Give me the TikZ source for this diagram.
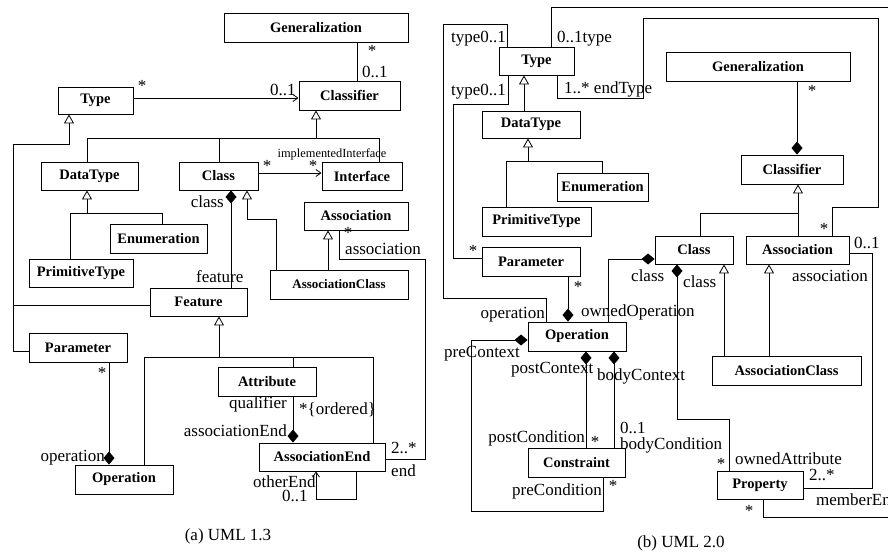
\documentclass[tikz,border=0pt]{standalone}
\usepackage{fontspec}
\setmainfont{Liberation Serif}
\usetikzlibrary{arrows.meta}
\begin{document}
\begin{tikzpicture}[x=1pt,y=-1pt,
  cls/.style={draw, line width=0.9pt, inner sep=0pt, font=\fontsize{14.5}{16}\selectfont\bfseries},
  lab/.style={inner sep=0pt, font=\fontsize{17}{19}\selectfont},
  conn/.style={line width=0.8pt},
  gen/.style={conn, -{Triangle[open, length=9pt, width=10pt, fill=white]}},
  comp/.style={conn, -{Diamond[length=13pt, width=11pt]}},
  nav/.style={conn, -{Straight Barb[length=5pt, width=7pt]}}]
\useasboundingbox (0,0) rectangle (888,552);
\clip (0,0) rectangle (888,552);

% ---------------- left panel boxes ----------------
\node[cls, minimum width=184pt, minimum height=29pt] (genL) at (316,27.5) {Generalization};
\node[cls, minimum width=101pt, minimum height=29pt] (clsfL) at (349.5,95.5) {Classifier};
\node[cls, minimum width=75pt, minimum height=27pt] (typeL) at (95.5,100.5) {Type};
\node[cls, minimum width=97pt, minimum height=28pt] (dtL) at (89.5,176) {DataType};
\node[cls, minimum width=79pt, minimum height=28pt] (classL) at (218.5,176) {Class};
\node[cls, minimum width=80pt, minimum height=28pt] (intfL) at (362,176) {Interface};
\node[cls, minimum width=97pt, minimum height=29pt] (enumL) at (158.5,238.5) {Enumeration};
\node[cls, minimum width=104pt, minimum height=28pt] (primL) at (81,273) {PrimitiveType};
\node[cls, minimum width=104pt, minimum height=28pt] (assocL) at (356,216) {Association};
\node[cls, minimum width=138pt, minimum height=29pt, font=\fontsize{13}{15}\selectfont\bfseries] (acL) at (339,284.5) {AssociationClass};
\node[cls, minimum width=97pt, minimum height=28pt] (featL) at (198.5,302) {Feature};
\node[cls, minimum width=98pt, minimum height=29pt] (paramL) at (78,347.5) {Parameter};
\node[cls, minimum width=98pt, minimum height=29pt] (attrL) at (267,381.5) {Attribute};
\node[cls, minimum width=98pt, minimum height=29pt] (opL) at (124,479.5) {Operation};
\node[cls, minimum width=126pt, minimum height=28pt] (aeL) at (322,457) {AssociationEnd};

% ---------------- left panel connectors ----------------
\draw[conn] (genL.south -| 357,0) -- (clsfL.north -| 357,0);
\node[lab, anchor=base] (l1) at (372,56) {*};
\node[lab, anchor=base west] (l2) at (362,77) {0..1};

\draw[nav] (typeL.east |- 0,98) -- (clsfL.west |- 0,98);
\node[lab, anchor=base] (l3) at (142,91) {*};
\node[lab, anchor=base west] (l4) at (270,95) {0..1};

\draw[conn] (dtL.north -| 87,0) -- (87,138) -- (379,138) -- (intfL.north -| 379,0);
\draw[conn] (classL.north -| 219,0) -- (219,138);
\draw[gen] (316,138) -- (clsfL.south -| 316,0);

\draw[nav] (classL.east |- 0,173) -- (intfL.west |- 0,173);
\node[lab, anchor=base] (l5) at (267,171) {*};
\node[lab, anchor=base] (l6) at (313,171) {*};
\node[inner sep=0pt, font=\fontsize{12.4}{14}\selectfont, anchor=base] (l7) at (332,157) {implementedInterface};

\draw[gen] (paramL.west |- 0,351) -| (13,144) -| (typeL.south -| 69,0);
\draw[conn] (featL.west |- 0,305) -- (13,305);

\draw[conn] (primL.north -| 70,0) -- (70,213) -- (162,213) -- (enumL.north -| 162,0);
\draw[gen] (87,213) -- (dtL.south -| 87,0);

\draw[comp] (featL.north -| 231,0) -- (classL.south -| 231,0);
\node[lab, anchor=base east] (l8) at (224,207) {class};
\node[lab, anchor=base west] (l9) at (196,282) {feature};

\draw[gen] (acL.north -| 276,0) -- (276,219) -- (247,219) -- (classL.south -| 247,0);
\draw[gen] (acL.north -| 328,0) -- (assocL.south -| 328,0);

\draw[conn] (assocL.south -| 339,0) -- (339,259) -- (425,259) -- (425,459) -- (aeL.east |- 0,459);
\node[lab, anchor=base] (l10) at (348,238) {*};
\node[lab, anchor=base west] (l11) at (345,254) {association};
\node[lab, anchor=base west] (l12) at (391,453) {2..*};
\node[lab, anchor=base west] (l13) at (391,476) {end};

\draw[gen] (219,357) -- (featL.south -| 219,0);
\draw[conn] (opL.north -| 144,0) -- (144,357) -- (373,357) -- (aeL.north -| 373,0);
\draw[conn] (293,357) -- (attrL.north -| 293,0);

\draw[comp] (paramL.south -| 109,0) -- (opL.north -| 109,0);
\node[lab, anchor=base] (l14) at (102,378) {*};
\node[lab, anchor=base east] (l15) at (105,461) {operation};

\draw[comp] (attrL.south -| 293,0) -- (aeL.north -| 293,0);
\node[lab, anchor=base east] (l16) at (287,408) {qualifier};
\node[lab, anchor=base west] (l17) at (299,414) {*\{ordered\}};
\node[lab, anchor=base east] (l18) at (287,436) {associationEnd};

\draw[nav] (aeL.south -| 356,0) -- (356,499) -- (316,499) -- (aeL.south -| 316,0);
\node[lab, anchor=base west] (l19) at (253,487) {otherEnd};
\node[lab, anchor=base west] (l20) at (282,501) {0..1};

\node[lab, anchor=base] (capA) at (228,540) {(a) UML 1.3};

% ---------------- right panel boxes ----------------
\node[cls, minimum width=75pt, minimum height=28pt] (typeR) at (536.5,61) {Type};
\node[cls, minimum width=98pt, minimum height=27pt] (dtR) at (531,124.5) {DataType};
\node[cls, minimum width=91pt, minimum height=28pt] (enumR) at (602.5,187) {Enumeration};
\node[cls, minimum width=109pt, minimum height=29pt] (primR) at (536.5,221.5) {PrimitiveType};
\node[cls, minimum width=184pt, minimum height=29pt] (genR) at (758,66.5) {Generalization};
\node[cls, minimum width=102pt, minimum height=29pt] (clsfR) at (792,169.5) {Classifier};
\node[cls, minimum width=78pt, minimum height=28pt] (classR) at (694,250) {Class};
\node[cls, minimum width=103pt, minimum height=28pt] (assocR) at (797.5,250) {Association};
\node[cls, minimum width=149pt, minimum height=29pt] (acR) at (786.5,370.5) {AssociationClass};
\node[cls, minimum width=98pt, minimum height=29pt] (paramR) at (531,261.5) {Parameter};
\node[cls, minimum width=98pt, minimum height=29pt] (opR) at (577,336.5) {Operation};
\node[cls, minimum width=97pt, minimum height=29pt] (consR) at (576.5,462.5) {Constraint};
\node[cls, minimum width=86pt, minimum height=28pt] (propR) at (760,485) {Property};

% ---------------- right panel connectors ----------------
\draw[gen] (dtR.north -| 524,0) -- (typeR.south -| 524,0);
\draw[conn] (primR.north -| 506,0) -- (506,161) -- (602,161) -- (enumR.north -| 602,0);
\draw[gen] (528,161) -- (dtR.south -| 528,0);

\draw[conn] (opR.north -| 546,0) -- (546,298) -- (443,298) -- (443,24) -- (507,24) -- (typeR.north -| 507,0);
\node[lab, anchor=base east] (r1) at (545,318) {operation};
\node[lab, anchor=base east] (r2) at (506,42) {type0..1};

\draw[conn] (paramR.west |- 0,258) -- (453,258) -- (453,104) -- (508,104) -- (typeR.south -| 508,0);
\node[lab, anchor=base] (r3) at (473,256) {*};
\node[lab, anchor=base east] (r4) at (506,95) {type0..1};

\coordinate (edgeT) at (888,7);
\draw[conn] (typeR.north -| 551,0) -- (551,7) -- (edgeT);
\node[lab, anchor=base west] (r5) at (557,42) {0..1type};

\draw[conn] (typeR.south -| 557,0) -- (557,98) -- (643,98) -- (643,18) -- (878,18) -- (878,207) -- (832,207) -- (assocR.north -| 832,0);
\node[lab, anchor=base west] (r6) at (564,93) {1..* endType};
\node[lab, anchor=base] (r7) at (824,234) {*};

\draw[comp] (genR.south -| 797,0) -- (clsfR.north -| 797,0);
\node[lab, anchor=base] (r8) at (812,96) {*};

\draw[gen] (assocR.north -| 798,0) -- (clsfR.south -| 798,0);
\draw[conn] (classR.north -| 700,0) -- (700,213) -- (798,213);

\draw[conn] (assocR.east |- 0,253) -- (872,253) -- (872,488) -- (propR.east |- 0,488);
\node[lab, anchor=base west] (r9) at (854,248) {0..1};
\node[lab, anchor=base west] (r10) at (792,281) {association};
\node[lab, anchor=base west] (r11) at (809,480) {2..*};

\draw[comp] (opR.north -| 608,0) -- (608,259) -- (classR.west |- 0,259);
\node[lab, anchor=base west] (r12) at (631,281) {class};
\node[lab, anchor=base west] (r13) at (581,316) {ownedOperation};

\draw[comp] (propR.north -| 729,0) -- (729,419) -- (677,419) -- (classR.south -| 677,0);
\node[lab, anchor=base west] (r14) at (683,287) {class};
\node[lab, anchor=base] (r15) at (721,469) {*};
\node[lab, anchor=base west] (r16) at (735,464) {ownedAttribute};

\draw[gen] (acR.north -| 724,0) -- (classR.south -| 724,0);
\draw[gen] (acR.north -| 769,0) -- (assocR.south -| 769,0);

\draw[comp] (paramR.south -| 568,0) -- (opR.north -| 568,0);
\node[lab, anchor=base] (r17) at (578,292) {*};

\draw[comp] (consR.south -| 603,0) -- (603,511) -- (471,511) -- (471,340) -- (opR.west |- 0,340);
\node[lab, anchor=base west] (r18) at (444,357) {preContext};
\node[lab, anchor=base west] (r19) at (512,495) {preCondition};
\node[lab, anchor=base] (r20) at (613,491) {*};

\draw[comp] (consR.north -| 586,0) -- (opR.south -| 586,0);
\node[lab, anchor=base west] (r21) at (511,373) {postContext};
\node[lab, anchor=base east] (r22) at (585,442) {postCondition};
\node[lab, anchor=base] (r23) at (595,447) {*};

\draw[comp] (consR.north -| 614,0) -- (opR.south -| 614,0);
\node[lab, anchor=base west] (r24) at (597,380) {bodyContext};
\node[lab, anchor=base west] (r25) at (620,433) {0..1};
\node[lab, anchor=base west] (r26) at (620,449) {bodyCondition};

\coordinate (edgeB) at (888,517);
\draw[conn] (propR.south -| 763,0) -- (763,517) -- (edgeB);
\node[lab, anchor=base] (r27) at (749,516) {*};
\node[lab, anchor=base west] (r28) at (816,505) {memberEnd};

\node[lab, anchor=base] (capB) at (681,547) {(b) UML 2.0};
\end{tikzpicture}
\end{document}
